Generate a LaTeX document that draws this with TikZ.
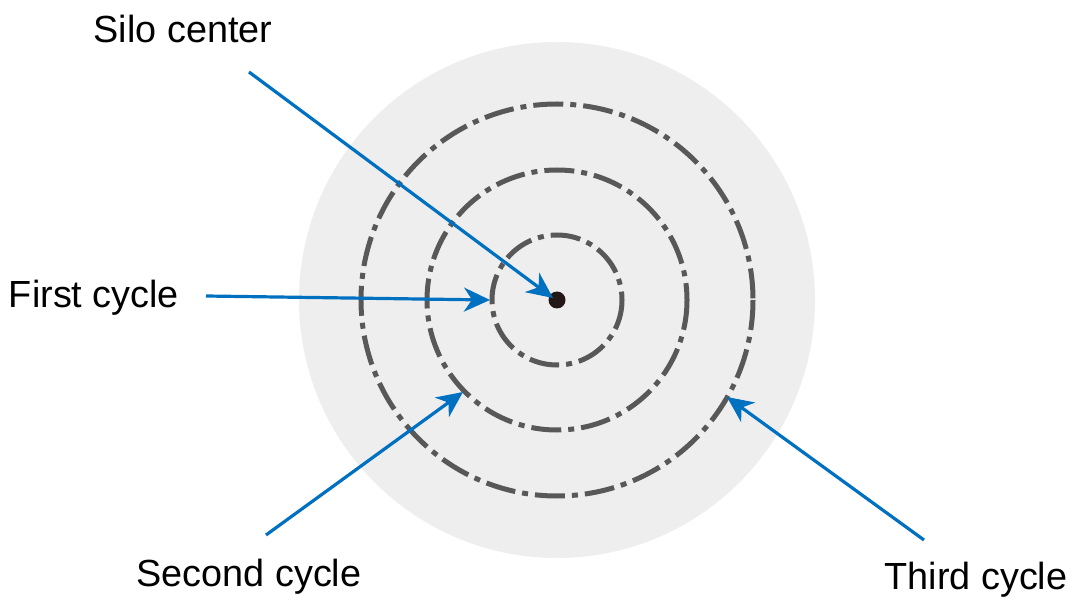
\documentclass[tikz,border=0pt]{standalone}
\usepackage{fontspec}
\setmainfont{Liberation Sans}
\usetikzlibrary{arrows.meta}
\definecolor{bgc}{HTML}{EEEEEE}
\definecolor{ringc}{HTML}{585858}
\definecolor{arrc}{HTML}{0070C0}
\definecolor{dotc}{HTML}{231815}
\begin{document}
\begin{tikzpicture}[x=1pt,y=-1pt,
  ring/.style={draw=ringc,line width=5pt,dash pattern=on 30pt off 7pt on 6pt off 7pt},
  ptr/.style={draw=arrc,line width=3.2pt,-{Stealth[length=26pt,width=24pt,inset=8pt]}},
  lbl/.style={font=\fontsize{37.8}{42}\selectfont,inner sep=0pt}]
\useasboundingbox (0,0) rectangle (1073,601);
\fill[bgc] (557,300) circle (258);
\coordinate (c) at (557,300);
\draw[ring] (c) circle (65);
\draw[ring] (c) circle (130);
\draw[ring] (c) circle (196);
\fill[dotc] (c) circle (8.5);
\node[lbl] (silo) at (183,29) {Silo center};
\node[lbl] (first) at (94,298) {First cycle};
\node[lbl] (second) at (249,577) {Second cycle};
\node[lbl] (third) at (976,580) {Third cycle};
\coordinate (s0) at (249,72);
\coordinate (s1) at (553,298);
\coordinate (f0) at (206,296);
\coordinate (f1) at (490,300);
\coordinate (d0) at (266,535);
\coordinate (d1) at (463,392);
\coordinate (t0) at (924,540);
\coordinate (t1) at (727,397);
\draw[ptr] (s0) -- (s1);
\draw[ptr] (f0) -- (f1);
\draw[ptr] (d0) -- (d1);
\draw[ptr] (t0) -- (t1);
\end{tikzpicture}
\end{document}
